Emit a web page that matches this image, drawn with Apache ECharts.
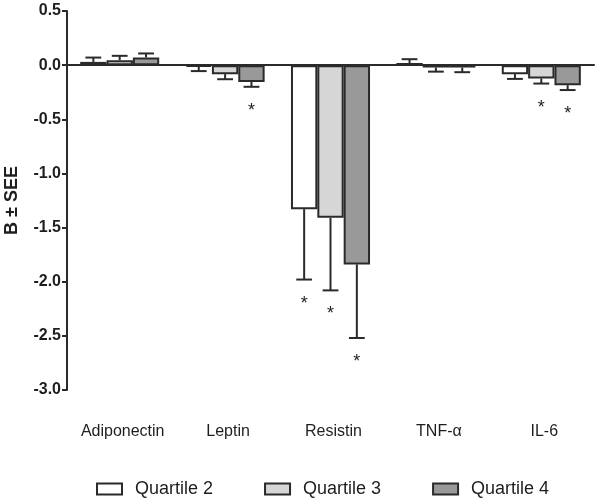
<!DOCTYPE html>
<html><head><meta charset="utf-8">
<script src="https://cdn.jsdelivr.net/npm/echarts@6/dist/echarts.min.js"></script>
<style>html,body{margin:0;padding:0;background:#fff}#c{width:600px;height:499px}</style>
</head><body><div id="c"></div>
<script>
const categories = ['Adiponectin', 'Leptin', 'Resistin', 'TNF-\u03b1', 'IL-6'];
const seriesNames = ['Quartile 2', 'Quartile 3', 'Quartile 4'];
const q2 = [0.03, -0.015, -1.33, 0.02, -0.083];
const q3 = [0.046, -0.083, -1.41, -0.022, -0.123];
const q4 = [0.071, -0.155, -1.84, -0.022, -0.185];
const q2Err = [0.04, 0.04, 0.65, 0.035, 0.044];
const q3Err = [0.04, 0.047, 0.67, 0.038, 0.047];
const q4Err = [0.037, 0.045, 0.68, 0.043, 0.045];
const q2Sig = [0, 0, 1, 0, 0];
const q3Sig = [0, 0, 1, 0, 1];
const q4Sig = [0, 1, 1, 0, 1];
const yTicks = [0.5, 0.0, -0.5, -1.0, -1.5, -2.0, -2.5, -3.0];

const values = [q2, q3, q4];
const errs = [q2Err, q3Err, q4Err];
const sigs = [q2Sig, q3Sig, q4Sig];
const fills = ['#ffffff', '#d6d6d6', '#999999'];
const dark = '#2a2a2a';
const txt = '#1e1e1e';
const ff = '"Liberation Sans", Arial, Helvetica, sans-serif';
const gapRatio = 0.25;

const chart = echarts.init(document.getElementById('c'));

const series = [];
values.forEach((vals, s) => {
  series.push({
    name: seriesNames[s], type: 'bar', xAxisIndex: 0, data: vals,
    barGap: '0%', barCategoryGap: (gapRatio * 100) + '%',
    itemStyle: { color: fills[s], borderColor: dark, borderWidth: 2 },
    emphasis: { disabled: true }, z: 2
  });
});
values.forEach((vals, s) => {
  series.push({
    type: 'custom', xAxisIndex: 0, z: 3, silent: true,
    data: vals.map((v, i) => [i, v, errs[s][i], sigs[s][i]]),
    renderItem: function (params, api) {
      const i = api.value(0), v = api.value(1), e = api.value(2), sg = api.value(3);
      const band = api.size([1, 0])[0];
      const barW = band * (1 - gapRatio) / 3;
      const base = api.coord([i, v]);
      const cx = base[0] + (s - 1) * barW;
      const dir = v >= 0 ? 1 : -1;
      const end = api.coord([i, v + dir * e]);
      const capHalf = barW * 0.3;
      const st = { stroke: dark, lineWidth: 2 };
      const children = [
        { type: 'line', shape: { x1: cx, y1: base[1], x2: cx, y2: end[1] }, style: st },
        { type: 'line', shape: { x1: cx - capHalf, y1: end[1], x2: cx + capHalf, y2: end[1] }, style: st }
      ];
      if (sg) {
        children.push({ type: 'text', style: { text: '*', x: cx, y: end[1] + (dir < 0 ? 24 : -24),
          align: 'center', verticalAlign: 'middle', fill: txt,
          font: '18px ' + ff } });
      }
      return { type: 'group', children: children };
    }
  });
});

chart.setOption({
  animation: false,
  backgroundColor: '#ffffff',
  grid: { left: 67, right: 6, top: 11, bottom: 109, containLabel: false, outerBoundsMode: 'none' },
  legend: {
    data: seriesNames, top: 480, left: 96, padding: 0, itemWidth: 25, itemHeight: 11, itemGap: 51,
    icon: 'rect',
    textStyle: { fontSize: 18, color: txt, fontFamily: ff, padding: [0, 0, 0, 8] }
  },
  xAxis: [
    { type: 'category', data: categories, position: 'bottom',
      axisLine: { onZero: true, lineStyle: { color: dark, width: 2 } },
      axisTick: { show: false }, axisLabel: { show: false } },
    { type: 'category', data: categories, position: 'bottom',
      axisLine: { show: false, onZero: false }, axisTick: { show: false },
      axisLabel: { interval: 0, hideOverlap: false, margin: 34, fontSize: 16, color: txt, fontFamily: ff, padding: [0, 0, 0, 6] } }
  ],
  yAxis: {
    type: 'value', min: -3, max: 0.5, interval: 0.5,
    name: 'B \u00b1 SEE', nameLocation: 'middle', nameGap: 46,
    nameTextStyle: { fontSize: 18, fontWeight: 'bold', color: txt, fontFamily: ff },
    axisLine: { show: true, lineStyle: { color: dark, width: 2 } },
    axisTick: { show: true, length: 5, lineStyle: { color: dark, width: 2 } },
    splitLine: { show: false },
    axisLabel: { fontSize: 16, fontWeight: 'bold', color: txt, margin: 6,
      fontFamily: ff,
      formatter: function (v) { const t = yTicks.find(x => Math.abs(x - v) < 1e-9); return (t !== undefined ? t : v).toFixed(1); } }
  },
  series: series
});
</script></body></html>
